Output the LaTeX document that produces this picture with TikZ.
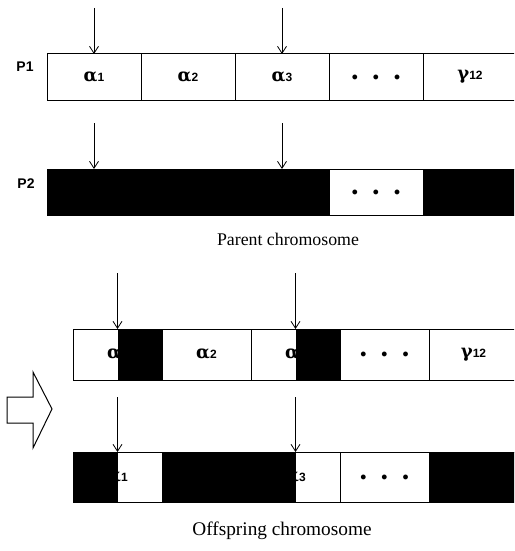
\documentclass[tikz,border=0pt]{standalone}
\usepackage{fontspec}
\setmainfont{Liberation Serif}
\newfontfamily\labfont{Liberation Sans}
\newfontfamily\cellfont{DejaVu Serif}
\usetikzlibrary{arrows.meta}
\newcommand\gsub[2]{#1{\labfont\bfseries\fontsize{12}{12}\selectfont #2}}
\newcommand\mydots{{\fontsize{26}{26}\selectfont .\hspace{12pt}.\hspace{12pt}.}}
\begin{document}
\begin{tikzpicture}[x=1pt,y=-1pt,
  pcell/.style={draw=black,line width=1pt,minimum width=94pt,minimum height=46pt,inner sep=0pt,outer sep=0pt,anchor=north west,font=\cellfont\bfseries\fontsize{18}{18}\selectfont},
  ocell/.style={draw=black,line width=1pt,minimum width=89pt,minimum height=50pt,inner sep=0pt,outer sep=0pt,anchor=north west,font=\cellfont\bfseries\fontsize{18}{18}\selectfont},
  blk/.style={fill=black},
  cross/.style={-{Straight Barb[length=7pt,width=9pt,line width=0.8pt]},line width=0.8pt},
  lab/.style={font=\labfont\bfseries\fontsize{14}{14}\selectfont},
  caption/.style={anchor=base}
]
\useasboundingbox (0,0) rectangle (514,551);
\clip (0,0) rectangle (514,551);
% Parent 1
\node[pcell] (p11) at (47,54) {\gsub{α}{1}};
\node[pcell] (p12) at (141,54) {\gsub{α}{2}};
\node[pcell] (p13) at (235,54) {\gsub{α}{3}};
\node[pcell] (p14) at (329,54) {\mydots};
\node[pcell] (p15) at (423,54) {\gsub{γ}{12}};
\node[lab] (l1) at (25,67) {P1};
% Parent 2
\node[pcell,blk] (p21) at (47,169) {};
\node[pcell,blk] (p22) at (141,169) {};
\node[pcell,blk] (p23) at (235,169) {};
\node[pcell] (p24) at (329,169) {\mydots};
\node[pcell,blk] (p25) at (423,169) {};
\node[lab] (l2) at (26,184) {P2};
\node[caption,font=\fontsize{17.8}{17.8}\selectfont] (cap1) at (288,245) {Parent chromosome};
% arrows parents
\coordinate (t11) at (94,8);
\coordinate (t13) at (282,8);
\coordinate (t21) at (94,123);
\coordinate (t23) at (282,123);
\draw[cross] (t11) -- (p11.north);
\draw[cross] (t13) -- (p13.north);
\draw[cross] (t21) -- (p21.north);
\draw[cross] (t23) -- (p23.north);
% Offspring 1
\node[ocell,minimum height=51pt] (o11) at (73,329) {\gsub{α}{1}};
\node[ocell,minimum height=51pt] (o12) at (162,329) {\gsub{α}{2}};
\node[ocell,minimum height=51pt] (o13) at (251,329) {\gsub{α}{3}};
\node[ocell,minimum height=51pt] (o14) at (340,329) {\mydots};
\node[ocell,minimum height=51pt] (o15) at (429,329) {\gsub{γ}{12}};
\fill[black] (o11.north) rectangle (o11.south east);
\fill[black] (o13.north) rectangle (o13.south east);
% Offspring 2
\node[ocell] (q11) at (73,452) {\gsub{α}{1}};
\node[ocell,blk] (q12) at (162,452) {};
\node[ocell] (q13) at (251,452) {\gsub{α}{3}};
\node[ocell] (q14) at (340,452) {\mydots};
\node[ocell,blk] (q15) at (429,452) {};
\fill[black] (q11.north west) rectangle (q11.south);
\fill[black] (q13.north west) rectangle (q13.south);
\node[caption,font=\fontsize{19.3}{19.3}\selectfont] (cap2) at (282,535) {Offspring chromosome};
% arrows offspring
\coordinate (u11) at (117.5,273);
\coordinate (u13) at (295.5,273);
\coordinate (u21) at (117.5,397);
\coordinate (u23) at (295.5,397);
\draw[cross] (u11) -- (o11.north);
\draw[cross] (u13) -- (o13.north);
\draw[cross] (u21) -- (q11.north);
\draw[cross] (u23) -- (q13.north);
% hollow arrow
\draw[line width=1pt,line join=miter] (7,397) -- (33,397) -- (33,372) -- (52,409) -- (33,448) -- (33,423) -- (7,423) -- cycle;
\end{tikzpicture}
\end{document}
